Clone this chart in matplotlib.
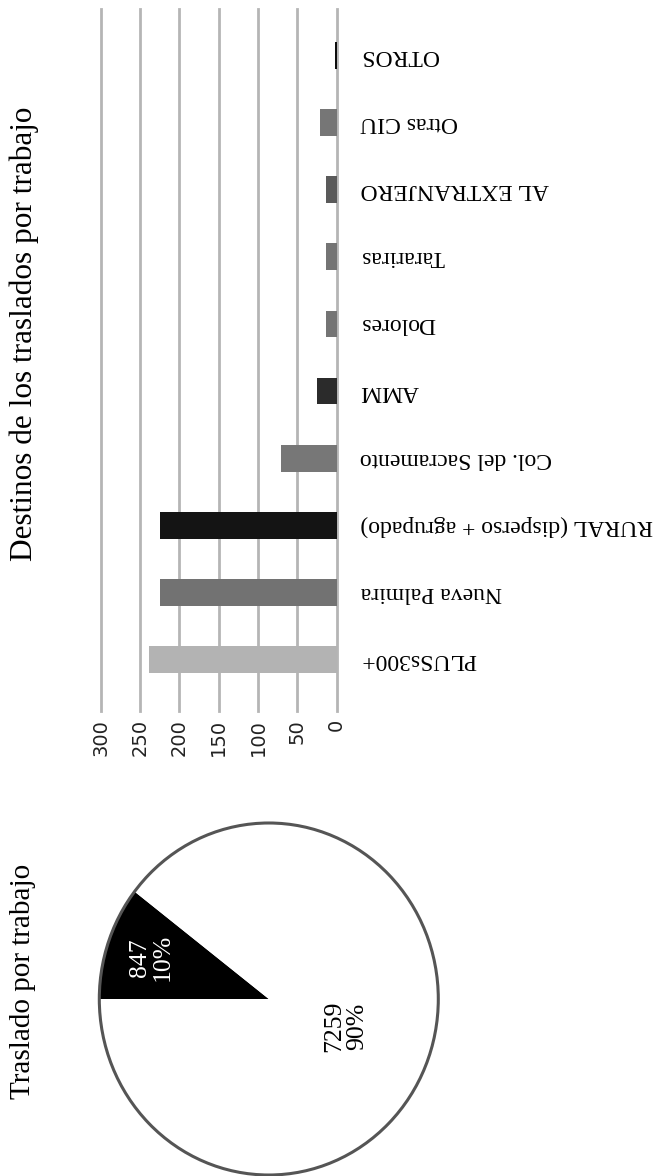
import matplotlib.pyplot as plt
from matplotlib.patches import Circle
import numpy as np

# datos
destinos = ['PLUSs300+', 'Nueva Palmira', 'RURAL (disperso + agrupado)', 'Col. del Sacramento',
            'AMM', 'Dolores', 'Tarariras', 'AL EXTRANJERO', 'Otras CIU', 'OTROS']
cantidades = [239, 225, 225, 71, 25, 13, 13, 13, 21, 2]
colores_barras = ['#b3b3b3', '#727272', '#141414', '#777777', '#2b2b2b',
                  '#747474', '#747474', '#5a5a5a', '#767676', '#0d0d0d']
ticks_x = [0, 50, 100, 150, 200, 250, 300]

traslado = [847, 7259]
colores_pie = ['#000000', '#ffffff']
colores_txt_pie = ['white', 'black']

serif = 'Liberation Serif'

fig = plt.figure(figsize=(6.68, 11.76), dpi=100)

# --- barras (todo el grafico va girado 90 grados) ---
ax = fig.add_axes([100.7 / 668, 1 - 710.7 / 1176, 236 / 668, 701.4 / 1176])
ax.barh(range(len(destinos)), cantidades, height=0.40, color=colores_barras, zorder=3)
ax.set_xlim(300, 0)
ax.set_ylim(-0.763, 9.689)
ax.set_xticks(ticks_x)
ax.set_xticklabels([str(t) for t in ticks_x], rotation=90, fontsize=14,
                   family='DejaVu Sans', color='#222222')
ax.set_yticks(range(len(destinos)))
ax.set_yticklabels(destinos, rotation=180, fontsize=17, family=serif, ha='left', va='center')
ax.yaxis.tick_right()
ax.tick_params(axis='x', length=0, pad=6)
ax.tick_params(axis='y', length=0, pad=17)
ax.grid(axis='x', color='#b5b5b5', linewidth=2, zorder=0)
for gl in ax.get_xgridlines():
    gl.set_clip_on(False)
for s in ax.spines.values():
    s.set_visible(False)

fig.text(0.037, 1 - 334 / 1176, 'Destinos de los traslados por trabajo', rotation=90,
         ha='center', va='center', fontsize=22.5, family=serif)

# --- torta ---
ax2 = fig.add_axes([99.3 / 668, 1 - 1175 / 1176, 339 / 668, 352 / 1176])
wedges, _ = ax2.pie(traslado, colors=colores_pie, startangle=180, counterclock=False,
                    radius=1, wedgeprops={'linewidth': 0})
ax2.set_xlim(-1, 1)
ax2.set_ylim(-1, 1)
ax2.set_aspect('auto')
ax2.add_patch(Circle((0, 0), 1, fill=False, edgecolor='#555555', linewidth=2.2, clip_on=False))
ax2.axis('off')

total = sum(traslado)
dist = [0.73, 0.48]
for w, v, c, r in zip(wedges, traslado, colores_txt_pie, dist):
    ang = np.deg2rad((w.theta1 + w.theta2) / 2)
    ax2.text(r * np.cos(ang), r * np.sin(ang), '%d\n%d%%' % (v, round(v / total * 100)),
             rotation=90, ha='center', va='center', fontsize=18.5, family=serif,
             color=c, linespacing=1.05)

fig.text(0.034, 1 - 981.5 / 1176, 'Traslado por trabajo', rotation=90,
         ha='center', va='center', fontsize=21, family=serif)

plt.savefig('out.png', dpi=100)
